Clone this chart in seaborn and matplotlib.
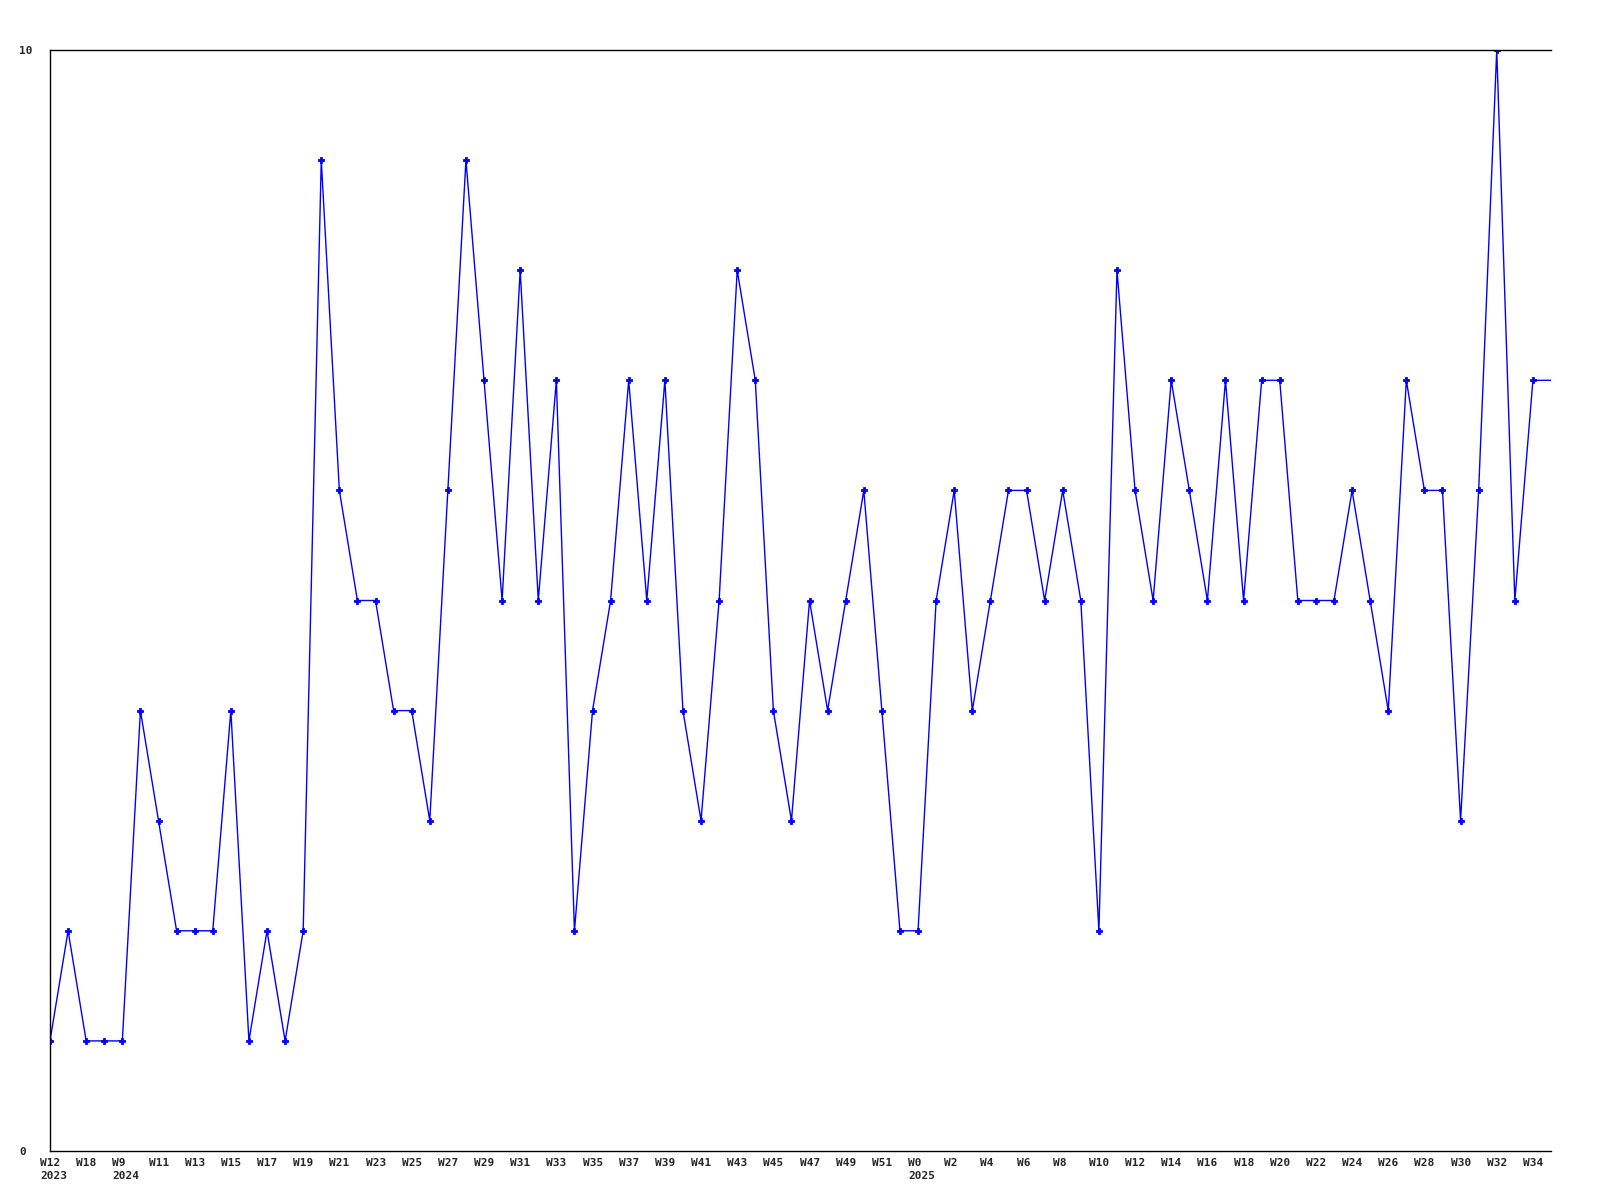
import matplotlib
matplotlib.use("Agg")
import matplotlib.pyplot as plt
import matplotlib.transforms as mtransforms
import seaborn as sns

# weekly counts, one per week (last one is the running week, no marker)
counts = [1, 2, 1, 1, 1, 4, 3, 2, 2, 2,
          4, 1, 2, 1, 2, 9, 6, 5, 5, 4,
          4, 3, 6, 9, 7, 5, 8, 5, 7, 2,
          4, 5, 7, 5, 7, 4, 3, 5, 8, 7,
          4, 3, 5, 4, 5, 6, 4, 2, 2, 5,
          6, 4, 5, 6, 6, 5, 6, 5, 2, 8,
          6, 5, 7, 6, 5, 7, 5, 7, 7, 5,
          5, 5, 6, 5, 4, 7, 6, 6, 3, 6,
          10, 5, 7, 7]

# labels shown on every second week
tick_labels = ["W12\n2023", "W18", "W9\n2024", "W11", "W13", "W15", "W17", "W19",
               "W21", "W23", "W25", "W27", "W29", "W31", "W33", "W35", "W37",
               "W39", "W41", "W43", "W45", "W47", "W49", "W51", "W0\n2025",
               "W2", "W4", "W6", "W8", "W10", "W12", "W14", "W16", "W18",
               "W20", "W22", "W24", "W26", "W28", "W30", "W32", "W34"]

sns.set_style("white")
plt.rcParams['font.family'] = ['DejaVu Sans Mono']

fig = plt.figure(figsize=(16, 12), dpi=100)
ax = fig.add_axes([50/1600, 1 - 1151/1200, 1501/1600, 1101/1200])

weeks = list(range(len(counts)))
sns.lineplot(x=weeks, y=counts, ax=ax, color="#0000ff", linewidth=1.0,
             marker="P", markersize=5, markeredgewidth=0.6,
             markeredgecolor="#0000ff",
             markevery=list(range(len(counts) - 1)))

ax.set_xlim(0, len(counts) - 1)
ax.set_ylim(0, 10)

ax.set_xticks(list(range(0, 2 * len(tick_labels), 2)))
ax.set_xticklabels(tick_labels, fontsize=8, fontweight="bold", linespacing=1.4)
ax.set_yticks([0, 10])
ax.set_yticklabels(["0", "10"], fontsize=8, fontweight="bold")
ax.tick_params(axis="both", length=0)
ax.tick_params(axis="x", pad=5)
ax.tick_params(axis="y", pad=22)

shift = mtransforms.ScaledTranslation(-10/100, 0, fig.dpi_scale_trans)
for lbl in ax.get_xticklabels():
    lbl.set_ha("left")
    lbl.set_multialignment("left")
    lbl.set_transform(lbl.get_transform() + shift)
for lbl in ax.get_yticklabels():
    lbl.set_ha("left")

for s in ["left", "top", "bottom"]:
    ax.spines[s].set_color("black")
    ax.spines[s].set_linewidth(1.0)
ax.spines["right"].set_visible(False)
ax.grid(False)

fig.savefig("out.png", dpi=100)
